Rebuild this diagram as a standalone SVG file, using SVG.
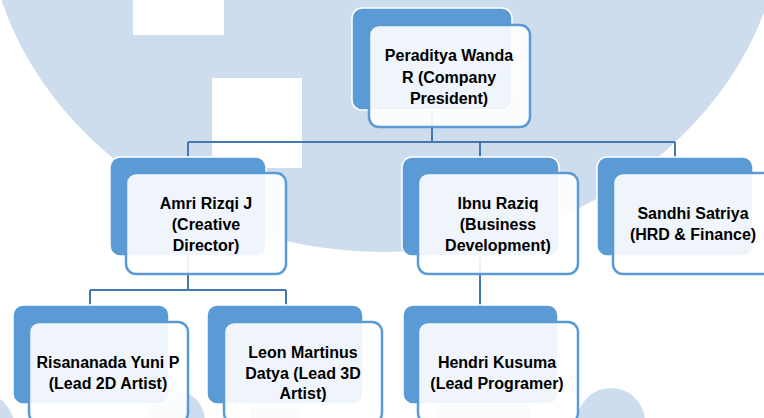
<svg xmlns="http://www.w3.org/2000/svg" width="764" height="418" viewBox="0 0 764 418">
  <style>
    .wm { fill: #CDDDEE; }
    .back { fill: #5B9BD5; stroke: #FFFFFF; stroke-width: 1.5; }
    .front { fill: #FFFFFF; fill-opacity: 0.9; stroke: #5B9BD5; stroke-width: 2.5; }
    .conn { fill: none; stroke: #4678B0; stroke-width: 2; }
    .label { font-family: "Liberation Sans", Arial, sans-serif; font-weight: bold; font-size: 16px; fill: #000000; text-anchor: middle; }
  </style>
  <rect x="0" y="0" width="764" height="418" fill="#FFFFFF"/>
  <g id="watermark">
    <ellipse class="wm" cx="385" cy="-100" rx="400" ry="352"/>
    <rect x="133" y="0" width="91" height="35" fill="#FFFFFF"/>
    <rect x="212" y="78" width="90" height="90" fill="#FFFFFF"/>
    <circle class="wm" cx="-25" cy="430" r="40"/>
    <ellipse class="wm" cx="175" cy="422" rx="30" ry="32"/>
    <rect class="wm" x="250" y="407" width="50" height="11"/>
    <rect class="wm" x="437" y="405" width="93" height="13"/>
    <ellipse class="wm" cx="611" cy="422" rx="34" ry="34"/>
  </g>
  <g id="connectors">
    <path class="conn" d="M432,110 V142 M188,142 H675 M188,142 V157 M480,142 V157 M675,142 V157"/>
    <path class="conn" d="M188,256 V290 M90,290 H286 M90,290 V305 M286,290 V305"/>
    <path class="conn" d="M480,256 V305"/>
  </g>
  <g id="node-president">
    <rect class="back" x="352" y="8" width="160" height="102" rx="10"/>
    <rect class="front" x="369" y="25" width="161" height="102" rx="10"/>
    <text class="label" x="449" y="61">Peraditya Wanda</text>
    <text class="label" x="449" y="82.5">R (Company</text>
    <text class="label" x="449" y="104">President)</text>
  </g>
  <g id="node-amri">
    <rect class="back" x="110" y="157" width="156" height="99" rx="10"/>
    <rect class="front" x="126" y="173" width="160" height="101" rx="10"/>
    <text class="label" x="206" y="209">Amri Rizqi J</text>
    <text class="label" x="206" y="230">(Creative</text>
    <text class="label" x="206" y="251">Director)</text>
  </g>
  <g id="node-ibnu">
    <rect class="back" x="402" y="157" width="157" height="99" rx="10"/>
    <rect class="front" x="418" y="173" width="160" height="101" rx="10"/>
    <text class="label" x="498" y="209">Ibnu Raziq</text>
    <text class="label" x="498" y="230">(Business</text>
    <text class="label" x="498" y="251">Development)</text>
  </g>
  <g id="node-sandhi">
    <rect class="back" x="597" y="157" width="156" height="99" rx="10"/>
    <rect class="front" x="613" y="173" width="160" height="101" rx="10"/>
    <text class="label" x="693" y="219">Sandhi Satriya</text>
    <text class="label" x="693" y="240">(HRD &amp; Finance)</text>
  </g>
  <g id="node-risananada">
    <rect class="back" x="13" y="305" width="156" height="99" rx="10"/>
    <rect class="front" x="29" y="322" width="159" height="101" rx="10"/>
    <text class="label" x="108" y="368">Risananada Yuni P</text>
    <text class="label" x="108" y="389">(Lead 2D Artist)</text>
  </g>
  <g id="node-leon">
    <rect class="back" x="207" y="305" width="156" height="99" rx="10"/>
    <rect class="front" x="224" y="322" width="158" height="101" rx="10"/>
    <text class="label" x="303" y="358">Leon Martinus</text>
    <text class="label" x="303" y="378.5">Datya (Lead 3D</text>
    <text class="label" x="303" y="399">Artist)</text>
  </g>
  <g id="node-hendri">
    <rect class="back" x="403" y="305" width="155" height="99" rx="10"/>
    <rect class="front" x="418" y="322" width="160" height="101" rx="10"/>
    <text class="label" x="497" y="368">Hendri Kusuma</text>
    <text class="label" x="497" y="389">(Lead Programer)</text>
  </g>
</svg>
